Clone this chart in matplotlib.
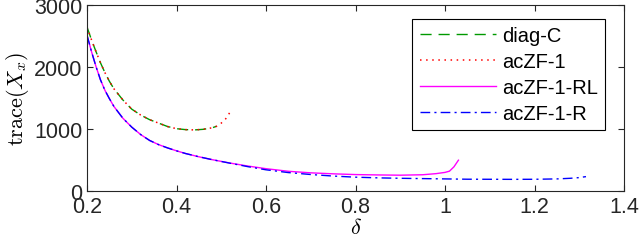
import matplotlib
matplotlib.use("Agg")
import matplotlib.pyplot as plt

plt.rcParams['font.family'] = ['Liberation Sans', 'DejaVu Sans']
plt.rcParams['mathtext.fontset'] = 'cm'

# diag-C
delta_diag = [0.20, 0.21, 0.22, 0.23, 0.24, 0.25, 0.26, 0.28, 0.30, 0.32, 0.34,
              0.36, 0.38, 0.40, 0.42, 0.44, 0.46, 0.48, 0.49]
trace_diag = [2645, 2440, 2250, 2070, 1910, 1770, 1650, 1470, 1320, 1225, 1150,
              1095, 1040, 1005, 990, 985, 995, 1020, 1045]

# acZF-1
delta_zf1 = [0.20, 0.21, 0.22, 0.23, 0.24, 0.25, 0.26, 0.28, 0.30, 0.32, 0.34,
             0.36, 0.38, 0.40, 0.42, 0.44, 0.46, 0.48, 0.49, 0.50, 0.51, 0.52]
trace_zf1 = [2645, 2440, 2250, 2070, 1910, 1770, 1650, 1470, 1320, 1225, 1150,
             1095, 1040, 1005, 990, 985, 995, 1020, 1045, 1095, 1165, 1275]

# acZF-1-RL
delta_rl = [0.20, 0.21, 0.22, 0.23, 0.24, 0.25, 0.26, 0.28, 0.30, 0.32, 0.34,
            0.36, 0.38, 0.40, 0.42, 0.45, 0.48, 0.52, 0.56, 0.60, 0.65, 0.70,
            0.75, 0.80, 0.85, 0.90, 0.95, 0.98, 1.00, 1.01, 1.02, 1.03]
trace_rl = [2513, 2250, 2010, 1795, 1625, 1490, 1365, 1175, 1030, 910, 815,
            748, 695, 648, 605, 552, 505, 450, 402, 360, 318, 293,
            277, 265, 259, 255, 262, 280, 300, 320, 390, 497]

# acZF-1-R
delta_r = [0.20, 0.21, 0.22, 0.23, 0.24, 0.25, 0.26, 0.28, 0.30, 0.32, 0.34,
           0.36, 0.38, 0.40, 0.42, 0.45, 0.48, 0.52, 0.56, 0.60, 0.65, 0.70,
           0.75, 0.80, 0.85, 0.90, 0.95, 1.00, 1.05, 1.10, 1.15, 1.20, 1.25,
           1.28, 1.30, 1.315]
trace_r = [2513, 2250, 2010, 1795, 1625, 1490, 1365, 1175, 1030, 910, 815,
           748, 695, 648, 605, 552, 505, 448, 392, 342, 297, 266,
           241, 223, 212, 205, 200, 195, 190, 189, 188, 189, 195,
           205, 216, 232]

xticks = [0.2, 0.4, 0.6, 0.8, 1.0, 1.2, 1.4]
xticklabels = ["0.2", "0.4", "0.6", "0.8", "1", "1.2", "1.4"]
yticks = [0, 1000, 2000, 3000]

fig = plt.figure(figsize=(6.4, 2.51), dpi=100)
ax = fig.add_axes([87/640, 1 - 192/251, (624-87)/640, (192-6)/251])

ax.plot(delta_diag, trace_diag, color=(0, 0.6, 0), lw=1.0, ls=(0, (8, 5)), label='diag-C')
ax.plot(delta_zf1, trace_zf1, color='red', lw=1.1, ls=(0, (1, 3)), label='acZF-1')
ax.plot(delta_rl, trace_rl, color='magenta', lw=1.0, ls='-', label='acZF-1-RL')
ax.plot(delta_r, trace_r, color='blue', lw=1.0, ls=(0, (7, 3, 1.5, 3)), label='acZF-1-R')

ax.set_xlim(0.2, 1.4)
ax.set_ylim(0, 3000)
ax.set_xticks(xticks)
ax.set_xticklabels(xticklabels)
ax.set_yticks(yticks)
ax.tick_params(direction='in', top=True, right=True, labelsize=15.5,
               colors=(0.15, 0.15, 0.15), length=4, width=0.8)
for sp in ax.spines.values():
    sp.set_color((0.15, 0.15, 0.15))
    sp.set_linewidth(0.8)

ax.set_xlabel(r'$\delta$', fontsize=16, labelpad=0)
ax.set_ylabel(r'$\mathrm{trace}(X_x)$', fontsize=16, labelpad=2)

leg = ax.legend(loc='upper right', bbox_to_anchor=((605-87)/537, (192-20)/186),
                fontsize=14.5, frameon=True, fancybox=False, framealpha=1,
                edgecolor='black', handlelength=3.8, labelspacing=0.35,
                borderpad=0.35, handletextpad=0.3, borderaxespad=0)
leg.get_frame().set_linewidth(0.8)

fig.savefig('out.png', dpi=100)
